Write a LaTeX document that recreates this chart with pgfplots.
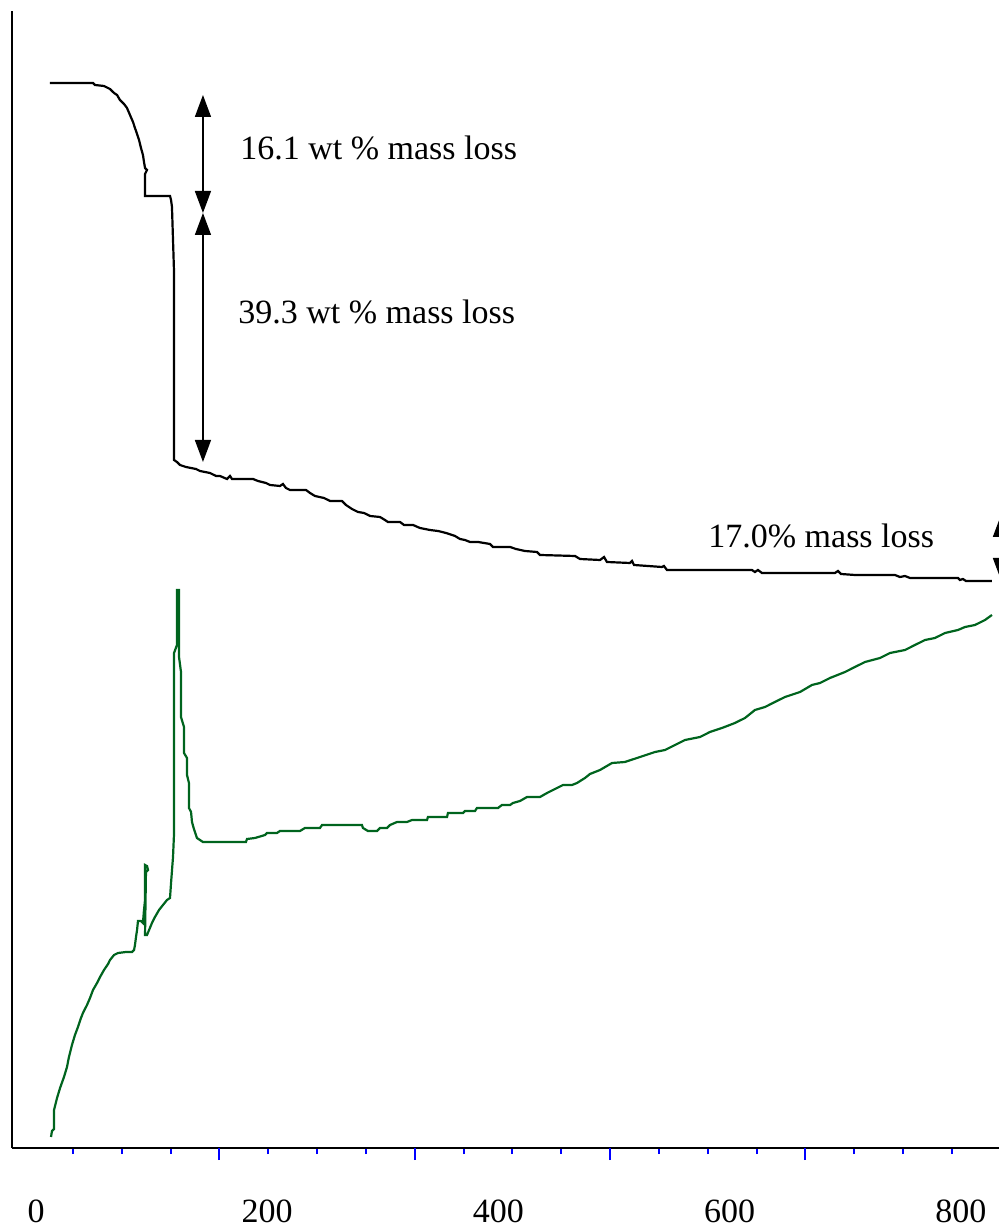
\documentclass[border=0pt]{standalone}
\usepackage{fontspec}
\setmainfont{Liberation Serif}
\usepackage{pgfplots}
\pgfplotsset{compat=1.18}
\usetikzlibrary{arrows.meta}
\definecolor{dgreen}{RGB}{0,100,30}
\begin{document}
\begin{tikzpicture}[x=1pt,y=1pt]
\useasboundingbox (0,0) rectangle (499.5,615);
\begin{axis}[at={(6pt,41pt)}, anchor=south west, scale only axis,
  width=493.5pt, height=568.5pt,
  xmin=-20.76, xmax=832.9, ymin=0, ymax=1137,
  axis x line=bottom, axis y line=left,
  axis line style={-, line width=1pt, black},
  ytick=\empty,
  xtick={0,200,400,600,800}, xticklabels={0,200,400,600,800},
  major tick length=0pt,
  tick align=outside,
  minor xtick={32.0,74.2,116.5,200.9,243.2,285.4,369.8,412.1,454.3,538.8,581.0,623.2,707.7,749.9,792.1},
  minor tick length=3pt,
  extra x ticks={158.7,327.6,496.5,665.5}, extra x tick labels={},
  extra x tick style={major tick length=6pt, tick style={blue, line width=1pt}},
  every tick/.style={blue, line width=1pt},
  minor tick style={blue, line width=1pt},
  xticklabel style={font=\fontsize{17}{20}\selectfont, anchor=base, yshift=-37pt},
  clip=false]
\addplot[black, line width=1.1pt] coordinates {
(12.1,1065)(49.3,1065)(51.0,1063)(58.8,1062)(64.0,1059)(67.5,1055)(70.1,1053)(72.6,1048)
(76.1,1044)(78.7,1040)(81.3,1033)(83.9,1026)(85.6,1020)(87.4,1014)(89.1,1008)(90.8,1000)
(92.5,993)(93.4,986)(94.3,980)(96.0,978)(94.3,974)(94.3,952)(115.9,952)(116.8,948)
(117.6,941)(119.4,875)(119.4,688)(121.9,686)(124.5,683)(129.7,681)(138.4,679)(141.8,677)
(150.5,675)(155.7,672)(159.1,672)(165.2,669)(167.8,672)(169.5,669)(187.7,669)(192.0,667)
(198.9,665)(202.4,663)(211.0,662)(213.6,664)(216.2,660)(219.7,658)(233.5,658)(237.0,655)
(241.3,652)(249.1,650)(254.3,647)(264.6,647)(268.1,643)(273.3,639)(278.5,636)(283.7,635)
(288.9,632)(297.5,631)(301.8,628)(304.4,626)(314.8,626)(318.3,623)(326.1,623)(332.1,620)
(340.8,618)(347.7,617)(354.6,615)(362.4,612)(366.7,609)(371.0,608)(375.4,606)(382.3,606)
(392.7,604)(395.2,601)(410.0,601)(415.1,599)(422.9,597)(433.3,596)(435.9,593)(466.2,592)
(470.5,589)(487.8,588)(491.3,591)(493.8,586)(513.7,585)(515.5,587)(517.2,583)(541.4,581)
(543.1,582)(545.7,578)(619.2,578)(621.8,576)(624.4,578)(627.9,575)(691.0,575)(693.6,577)
(696.2,574)(708.3,573)(742.9,573)(747.2,571)(751.6,572)(755.9,570)(797.4,570)(799.1,568)
(801.7,569)(804.3,567)(826.8,567)
};
\addplot[dgreen, line width=1.1pt] coordinates {
(13.0,11)(13.8,17)(15.6,19)(15.6,38)(18.2,50)(20.8,60)(24.2,71)(26.8,81)(28.5,91)(31.1,103)
(33.7,113)(36.3,121)(38.9,130)(40.6,135)(44.1,143)(46.7,150)(49.3,158)(52.8,165)(55.4,171)
(58.8,178)(62.3,184)(64.0,188)(67.5,193)(70.9,195)(77.8,196)(83.0,196)(84.8,198)(85.6,203)
(86.5,211)(87.4,218)(88.2,227)(90.8,227)(92.5,225)(93.4,238)(94.3,248)(94.3,283)(96.0,282)
(96.9,278)(95.1,276)(94.3,213)(96.0,213)(100.3,225)(102.9,231)(106.4,238)(109.8,243)
(113.3,248)(115.9,250)(116.8,265)(118.5,291)(119.4,315)(119.4,495)(121.9,503)(121.9,558)
(123.7,558)(123.7,491)(125.4,476)(125.4,431)(128.0,421)(128.0,395)(130.6,390)(130.6,373)
(132.3,365)(132.3,340)(134.1,336)(134.9,326)(136.6,319)(139.2,310)(144.4,306)(181.6,306)
(182.5,309)(189.4,310)(198.1,313)(199.8,315)(208.4,315)(211.0,317)(228.3,317)(232.6,320)
(245.6,320)(247.4,323)(281.9,323)(282.8,320)(287.1,317)(294.9,317)(297.5,320)(303.6,320)
(306.2,323)(312.2,326)(320.9,326)(325.2,328)(338.2,328)(339.0,331)(355.5,331)(356.3,335)
(369.3,335)(371.0,337)(379.7,337)(381.4,340)(399.6,340)(403.0,343)(410.0,343)(412.5,345)
(418.6,347)(424.7,351)(435.9,351)(442.0,355)(450.6,360)(455.8,363)(463.6,363)(467.9,365)
(474.8,370)(479.1,374)(487.8,378)(498.2,385)(509.4,386)(522.4,391)(535.4,396)(544.0,398)
(552.7,403)(561.3,408)(574.3,411)(582.9,416)(593.3,420)(604.5,425)(613.2,430)(621.8,438)
(630.5,441)(639.1,446)(647.8,451)(660.8,456)(671.1,463)(678.1,465)(686.7,470)(699.7,476)
(708.3,481)(717.0,486)(730.0,490)(738.6,495)(751.6,498)(760.2,503)(768.9,508)(777.5,510)
(786.2,515)(797.4,518)(803.5,521)(812.1,523)(820.8,528)(826.8,533)
};
\draw[{Triangle[width=8pt,length=11pt]}-{Triangle[width=8pt,length=11pt]}, line width=0.7pt]
  (axis cs:144.4,1053) -- (axis cs:144.4,935);
\draw[{Triangle[width=8pt,length=11pt]}-{Triangle[width=8pt,length=11pt]}, line width=0.7pt]
  (axis cs:144.4,935) -- (axis cs:144.4,686);
\draw[{Triangle[width=8pt,length=11pt]}-{Triangle[width=8pt,length=11pt]}, line width=0.7pt]
  (axis cs:834.6,633) -- (axis cs:834.6,568);
\node[anchor=base west, inner sep=0pt, font=\fontsize{17}{20}\selectfont] at (axis cs:176.4,988) {16.1 wt \% mass loss};
\node[anchor=base west, inner sep=0pt, font=\fontsize{17}{20}\selectfont] at (axis cs:174.7,824) {39.3 wt \% mass loss};
\node[anchor=base west, inner sep=0pt, font=\fontsize{17}{20}\selectfont] at (axis cs:581.2,600) {17.0\% mass loss};
\end{axis}
\end{tikzpicture}
\end{document}
